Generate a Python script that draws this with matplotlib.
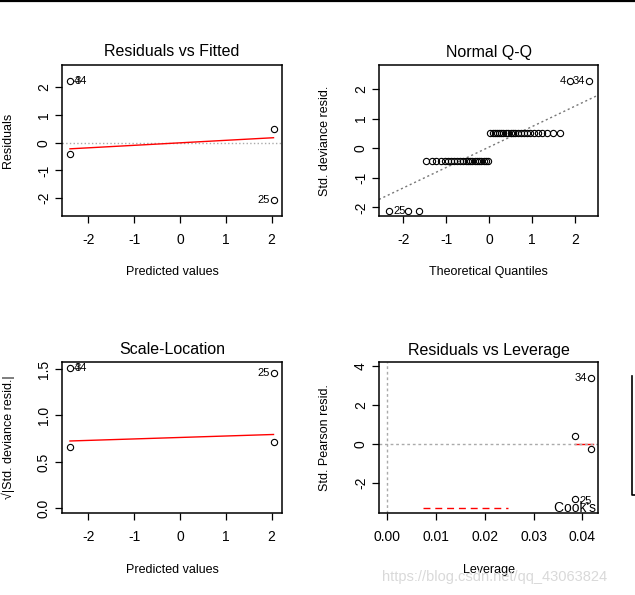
import matplotlib
matplotlib.use("Agg")
import matplotlib.pyplot as plt
from matplotlib.lines import Line2D

plt.rcParams['font.family'] = ['Liberation Sans', 'DejaVu Sans']
plt.rcParams['axes.unicode_minus'] = False

W, H = 635, 595

# Residuals vs Fitted (deviance residuals)
rf_x = [-2.40, -2.40, 2.04, 2.04]
rf_y = [2.23, -0.42, 0.49, -2.06]
rf_smooth_x = [-2.40, 2.04]
rf_smooth_y = [-0.22, 0.18]
rf_labels = [("4", -2.40, 2.23, "right"), ("34", -2.40, 2.23, "right"), ("25", 2.04, -2.06, "left")]

# Normal Q-Q
qq_x = [-2.33, -1.88, -1.64, -1.48, -1.34, -1.23, -1.13, -1.04, -0.95, -0.88,
        -0.81, -0.74, -0.67, -0.61, -0.55, -0.50, -0.44, -0.39, -0.33, -0.28,
        -0.23, -0.18, -0.13, -0.08, -0.03, 0.03, 0.08, 0.13, 0.18, 0.23,
        0.28, 0.33, 0.39, 0.44, 0.50, 0.55, 0.61, 0.67, 0.74, 0.81,
        0.88, 0.95, 1.04, 1.13, 1.23, 1.34, 1.48, 1.64, 1.88, 2.33]
qq_y = [-2.12, -2.12, -2.12, -0.42, -0.42, -0.42, -0.42, -0.42, -0.42, -0.42,
        -0.42, -0.42, -0.42, -0.42, -0.42, -0.42, -0.42, -0.42, -0.42, -0.42,
        -0.42, -0.42, -0.42, -0.42, -0.42, 0.50, 0.50, 0.50, 0.50, 0.50,
        0.50, 0.50, 0.50, 0.50, 0.50, 0.50, 0.50, 0.50, 0.50, 0.50,
        0.50, 0.50, 0.50, 0.50, 0.50, 0.50, 0.50, 0.50, 2.27, 2.27]
qq_line_intercept = 0.04
qq_line_slope = 0.69
qq_labels = [("25", -2.33, -2.12, "right"), ("4", 1.88, 2.27, "left"), ("34", 2.33, 2.27, "left")]

# Scale-Location
sl_x = [-2.40, -2.40, 2.04, 2.04]
sl_y = [1.51, 0.66, 0.715, 1.46]
sl_smooth_x = [-2.40, 2.04]
sl_smooth_y = [0.725, 0.795]
sl_labels = [("4", -2.40, 1.51, "right"), ("34", -2.40, 1.51, "right"), ("25", 2.04, 1.46, "left")]

# Residuals vs Leverage
lev_x = [0.0417, 0.0417, 0.0385, 0.0385]
lev_y = [3.39, -0.27, 0.40, -2.82]
lev_smooth_x = [0.0385, 0.0421]
lev_smooth_y = [0.0, 0.0]
lev_labels = [("34", 0.0417, 3.39, "left"), ("25", 0.0385, -2.95, "right")]
cook_x = [0.0074, 0.0248]
cook_y = [-3.29, -3.29]

TICK_FS = 10
LAB_FS = 9
TITLE_FS = 11.5
ID_FS = 8


def make_axes(fig, x0, y0, x1, y1):
    return fig.add_axes([x0 / W, 1 - y1 / H, (x1 - x0) / W, (y1 - y0) / H])


def style(ax, title, xlabel, ylabel, x0, y0, x1, y1, title_y, xlab_y, ylab_x):
    w, h = x1 - x0, y1 - y0
    for s in ax.spines.values():
        s.set_linewidth(1.1)
    ax.tick_params(direction='out', length=5, width=0.9, labelsize=TICK_FS, pad=3)
    ax.tick_params(axis='x', pad=7)
    for t in ax.get_yticklabels():
        t.set_rotation(90)
        t.set_va('center')
    ax.set_title(title, fontsize=TITLE_FS, pad=0, y=(y1 - title_y) / h, va='center')
    ax.set_xlabel(xlabel, fontsize=LAB_FS)
    ax.xaxis.set_label_coords(0.5, (y1 - xlab_y) / h)
    ax.xaxis.label.set_va('center')
    ax.set_ylabel(ylabel, fontsize=LAB_FS)
    ax.yaxis.set_label_coords((ylab_x - x0) / w, 0.5)
    ax.yaxis.label.set_va('center')


def id_labels(ax, labels):
    # side = where the text sits relative to its point
    for text, x, y, side in labels:
        if side == "right":
            ax.annotate(text, (x, y), xytext=(3, 0), textcoords='offset points',
                        ha='left', va='center', fontsize=ID_FS)
        else:
            ax.annotate(text, (x, y), xytext=(-3, 0), textcoords='offset points',
                        ha='right', va='center', fontsize=ID_FS)


pt_kw = dict(marker='o', linestyle='none', mfc='none', mec='black', ms=4.5, mew=0.8, zorder=3)

fig = plt.figure(figsize=(W / 100, H / 100), dpi=100)

# panel 1
b = (62, 65, 282, 216)
ax1 = make_axes(fig, *b)
ax1.axhline(0, color='#aaaaaa', linestyle=':', lw=1)
ax1.plot(rf_smooth_x, rf_smooth_y, color='red', lw=1)
ax1.plot(rf_x, rf_y, **pt_kw)
id_labels(ax1, rf_labels)
ax1.set_xlim(-2.574, 2.225)
ax1.set_ylim(-2.64, 2.80)
ax1.set_xticks([-2, -1, 0, 1, 2])
ax1.set_yticks([-2, -1, 0, 1, 2])
style(ax1, "Residuals vs Fitted", "Predicted values", "Residuals", *b, 52, 272, 8)

# panel 2
b = (379, 65, 598, 216)
ax2 = make_axes(fig, *b)
ax2.axline((0, qq_line_intercept), slope=qq_line_slope, color='#777777', linestyle=(0, (1.5, 2)), lw=1)
ax2.plot(qq_x, qq_y, **pt_kw)
id_labels(ax2, qq_labels)
ax2.set_xlim(-2.567, 2.536)
ax2.set_ylim(-2.29, 2.81)
ax2.set_xticks([-2, -1, 0, 1, 2])
ax2.set_yticks([-2, -1, 0, 1, 2])
style(ax2, "Normal Q-Q", "Theoretical Quantiles", "Std. deviance resid.", *b, 52, 272, 325)

# panel 3
b = (62, 362, 282, 513)
ax3 = make_axes(fig, *b)
ax3.plot(sl_smooth_x, sl_smooth_y, color='red', lw=1)
ax3.plot(sl_x, sl_y, **pt_kw)
id_labels(ax3, sl_labels)
ax3.set_xlim(-2.574, 2.225)
ax3.set_ylim(-0.05, 1.575)
ax3.set_xticks([-2, -1, 0, 1, 2])
ax3.set_yticks([0.0, 0.5, 1.0, 1.5])
ax3.set_yticklabels(["0.0", "0.5", "1.0", "1.5"])
style(ax3, "Scale-Location", "Predicted values", "\u221a|Std. deviance resid.|", *b, 350, 570, 8)

# panel 4
b = (379, 362, 598, 513)
ax4 = make_axes(fig, *b)
ax4.plot(lev_smooth_x, lev_smooth_y, color='red', lw=1, zorder=1)
ax4.axhline(0, color='#aaaaaa', linestyle=(0, (2, 2)), lw=1, zorder=2)
ax4.axvline(0, color='#aaaaaa', linestyle=(0, (2, 2)), lw=1, zorder=2)
ax4.plot(lev_x, lev_y, **pt_kw)
id_labels(ax4, lev_labels)
ax4.plot(cook_x, cook_y, color='red', lw=1, linestyle=(0, (5, 3.5)))
ax4.text(0.0342, -3.32, "Cook's distance", fontsize=10, ha='left', va='center', clip_on=True)
ax4.set_xlim(-0.0017, 0.0432)
ax4.set_ylim(-3.56, 4.206)
ax4.set_xticks([0.00, 0.01, 0.02, 0.03, 0.04])
ax4.set_xticklabels(["0.00", "0.01", "0.02", "0.03", "0.04"])
ax4.set_yticks([-2, 0, 2, 4])
style(ax4, "Residuals vs Leverage", "Leverage", "Std. Pearson resid.", *b, 350, 570, 325)

# watermark
fig.text(382 / W, 1 - 577 / H, "https://blog.csdn.net/qq_43063824", fontsize=10.5,
         color='#d9d9d9', ha='left', va='center')

# frame fragments of the screenshot
fig.add_artist(Line2D([0, 1], [1 - 0.8 / H, 1 - 0.8 / H], color='black', lw=1.6, transform=fig.transFigure))
fig.add_artist(Line2D([632 / W, 632 / W, 1], [1 - 376 / H, 1 - 495 / H, 1 - 495 / H],
                      color='black', lw=1.2, transform=fig.transFigure))

fig.savefig("out.png", dpi=100)
